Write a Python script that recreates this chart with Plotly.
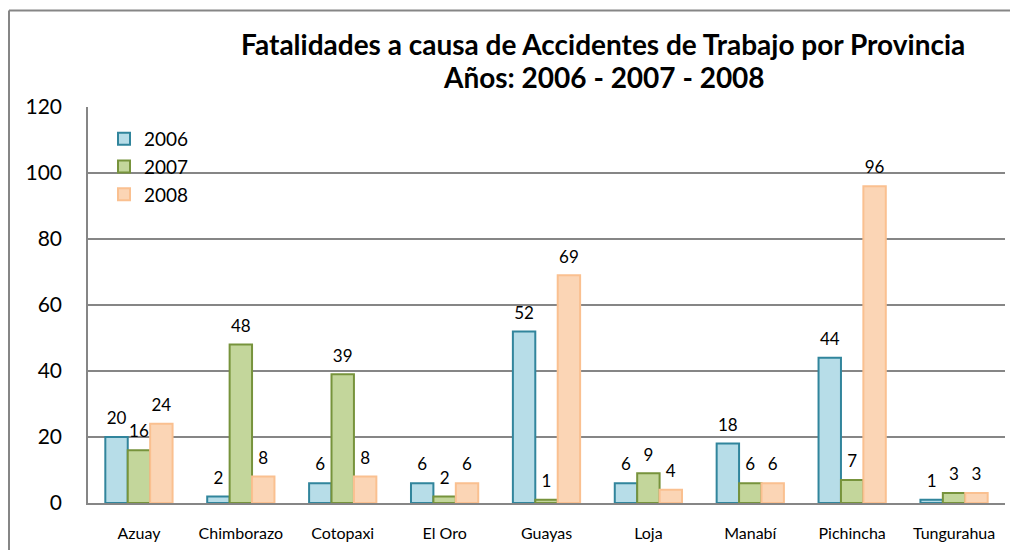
import plotly.graph_objects as go

provincias = ["Azuay", "Chimborazo", "Cotopaxi", "El Oro", "Guayas", "Loja", "Manabí", "Pichincha", "Tungurahua"]
v2006 = [20, 2, 6, 6, 52, 6, 18, 44, 1]
v2007 = [16, 48, 39, 2, 1, 9, 6, 7, 3]
v2008 = [24, 8, 8, 6, 69, 4, 6, 96, 3]
series_names = ["2006", "2007", "2008"]
fills = ["#B7DDE8", "#C3D69B", "#FBD5B5"]
borders = ["#31859C", "#77933C", "#FAC090"]
y_ticks = [0, 20, 40, 60, 80, 100, 120]

FONT = "Lato"
# page body has an 8px margin: figure is drawn at (8, 8) in the window
OFF = 8
W, H = 1018 - OFF, 550 - OFF
L, R, T, B = 88 - OFF, 13, 107 - OFF, 47
PW, PH = W - L - R, H - T - B


def px_x(x):  # window px -> paper
    return (x - OFF - L) / PW


def px_y(y):
    return (H - B - (y - OFF)) / PH


fig = go.Figure()
for name, vals, fc, bc in zip(series_names, [v2006, v2007, v2008], fills, borders):
    fig.add_trace(go.Bar(
        x=provincias, y=vals, name=name, offsetgroup=name,
        marker=dict(color=fc, line=dict(color=bc, width=2)),
    ))
for name, vals in zip(series_names, [v2006, v2007, v2008]):
    fig.add_trace(go.Scatter(
        x=provincias, y=vals, mode="markers+text", showlegend=False,
        offsetgroup=name, hoverinfo="skip",
        marker=dict(size=12, opacity=0),
        text=[str(v) for v in vals], textposition="top center",
        textfont=dict(family=FONT, size=17, color="#000000"),
        cliponaxis=False,
    ))

fig.update_layout(
    width=W, height=H,
    margin=dict(l=L, r=R, t=T, b=B, autoexpand=False),
    paper_bgcolor="white", plot_bgcolor="white",
    barmode="group", bargap=0.34, bargroupgap=0,
    scattermode="group", scattergap=0.34,
    font=dict(family=FONT, color="#000000"),
    showlegend=True,
    legend=dict(x=px_x(104), y=px_y(120), xanchor="left", yanchor="top",
                font=dict(family=FONT, size=19), bgcolor="rgba(0,0,0,0)",
                itemwidth=30),
    xaxis=dict(showgrid=False, showline=True, linecolor="#868686", linewidth=2,
               ticks="", tickfont=dict(family=FONT, size=16), ticklabelstandoff=15),
    yaxis=dict(range=[0, 120], tickvals=y_ticks, showgrid=True, gridcolor="#868686",
               gridwidth=1.5, showline=True, linecolor="#868686", linewidth=1.5,
               zeroline=False, ticks="", tickfont=dict(family=FONT, size=21),
               ticklabelstandoff=20),
)

fig.add_annotation(text="<b>Fatalidades a causa de Accidentes de Trabajo por Provincia</b>",
                   xref="paper", yref="paper", x=px_x(603), y=px_y(44),
                   xanchor="center", yanchor="middle", showarrow=False,
                   font=dict(family=FONT, size=28, color="#000000"))
fig.add_annotation(text="<b>Años: 2006 - 2007 - 2008</b>",
                   xref="paper", yref="paper", x=px_x(604), y=px_y(77),
                   xanchor="center", yanchor="middle", showarrow=False,
                   font=dict(family=FONT, size=28, color="#000000"))

# outer chart frame (top and left edges visible)
fig.add_shape(type="line", xref="paper", yref="paper",
              x0=px_x(9), x1=px_x(1030), y0=px_y(10.5), y1=px_y(10.5),
              line=dict(color="#868686", width=2))
fig.add_shape(type="line", xref="paper", yref="paper",
              x0=px_x(9), x1=px_x(9), y0=px_y(10.5), y1=px_y(560),
              line=dict(color="#868686", width=2))

fig.write_html("out.html")
